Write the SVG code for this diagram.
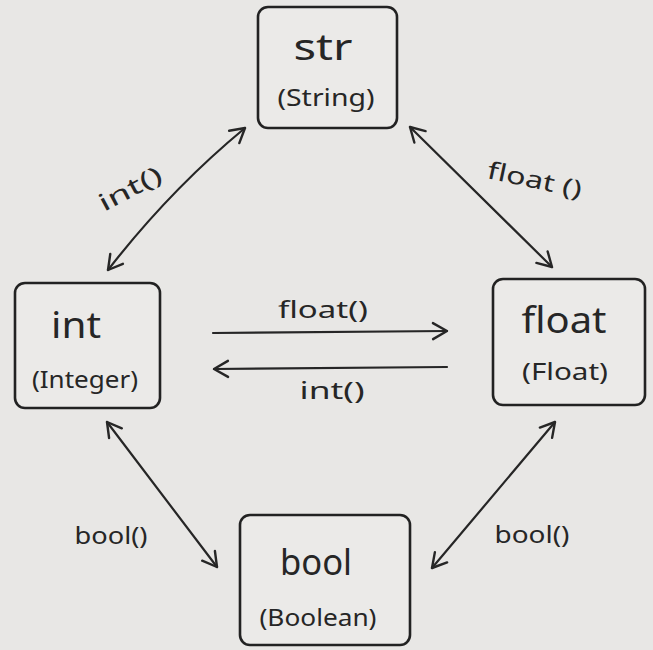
<svg xmlns="http://www.w3.org/2000/svg" width="653" height="650" viewBox="0 0 653 650">
  <style>
    .box { fill: #ebeae8; stroke: #222; stroke-width: 2.6; }
    .main { font-family: "Noto Sans", "DejaVu Sans", sans-serif; font-size: 37px; fill: #262626; text-anchor: middle; }
    .sub { font-family: "Noto Sans", "DejaVu Sans", sans-serif; font-size: 24px; fill: #262626; text-anchor: middle; }
    .lbl { font-family: "Noto Sans", "DejaVu Sans", sans-serif; font-size: 24px; fill: #262626; text-anchor: middle; }
    .edge { fill: none; stroke: #262626; stroke-width: 2.2; stroke-linecap: round; }
  </style>
  <defs>
    <marker id="head" viewBox="0 0 20 20" refX="17" refY="10" markerWidth="20" markerHeight="20" markerUnits="userSpaceOnUse" orient="auto-start-reverse">
      <path d="M3 2 L17 10 L3 18" fill="none" stroke="#262626" stroke-width="2.4" stroke-linecap="round" stroke-linejoin="round"/>
    </marker>
  </defs>

  <rect width="653" height="650" fill="#e8e7e5"/>

  <g id="str">
    <rect class="box" x="258" y="7" width="139" height="121" rx="10"/>
    <text class="main" x="323" y="60" textLength="59" lengthAdjust="spacingAndGlyphs">str</text>
    <text class="sub" x="326" y="106" textLength="97" lengthAdjust="spacingAndGlyphs">(String)</text>
  </g>

  <g id="int">
    <rect class="box" x="15" y="283" width="145" height="125" rx="10"/>
    <text class="main" x="76" y="338" textLength="50" lengthAdjust="spacingAndGlyphs">int</text>
    <text class="sub" x="85" y="388" textLength="106" lengthAdjust="spacingAndGlyphs">(Integer)</text>
  </g>

  <g id="float">
    <rect class="box" x="493" y="279" width="152" height="126" rx="10"/>
    <text class="main" x="564" y="333" textLength="85" lengthAdjust="spacingAndGlyphs">float</text>
    <text class="sub" x="565" y="380" textLength="86" lengthAdjust="spacingAndGlyphs">(Float)</text>
  </g>

  <g id="bool">
    <rect class="box" x="240" y="515" width="170" height="130" rx="10"/>
    <text class="main" x="316" y="575" textLength="72" lengthAdjust="spacingAndGlyphs">bool</text>
    <text class="sub" x="318" y="626" textLength="117" lengthAdjust="spacingAndGlyphs">(Boolean)</text>
  </g>

  <g id="connectors">
    <path class="edge" d="M245 128 Q170 190 108 270" marker-start="url(#head)" marker-end="url(#head)"/>
    <path class="edge" d="M410 127 L552 267" marker-start="url(#head)" marker-end="url(#head)"/>
    <path class="edge" d="M213 333 L447 331" marker-end="url(#head)"/>
    <path class="edge" d="M447 367 L214 369" marker-end="url(#head)"/>
    <path class="edge" d="M107 422 L217 567" marker-start="url(#head)" marker-end="url(#head)"/>
    <path class="edge" d="M555 422 L432 568" marker-start="url(#head)" marker-end="url(#head)"/>

    <text class="lbl" transform="translate(134 196) rotate(-28)" textLength="68" lengthAdjust="spacingAndGlyphs">int()</text>
    <text class="lbl" transform="translate(533 188) rotate(12)" textLength="96" lengthAdjust="spacingAndGlyphs">float ()</text>
    <text class="lbl" x="323" y="318" textLength="90" lengthAdjust="spacingAndGlyphs">float()</text>
    <text class="lbl" x="332" y="399" textLength="65" lengthAdjust="spacingAndGlyphs">int()</text>
    <text class="lbl" x="111" y="544" textLength="73" lengthAdjust="spacingAndGlyphs">bool()</text>
    <text class="lbl" x="532" y="543" textLength="75" lengthAdjust="spacingAndGlyphs">bool()</text>
  </g>
</svg>
